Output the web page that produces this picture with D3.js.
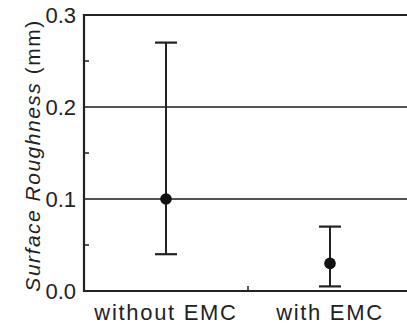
<!DOCTYPE html>
<html>
<head>
<meta charset="utf-8">
<script src="https://cdn.jsdelivr.net/npm/d3@7"></script>
<style>
  body { margin: 0; background: #fff; }
  svg { display: block; font-family: 'Liberation Sans', Arial, sans-serif; }
</style>
</head>
<body>
<svg id="chart" width="407" height="324"></svg>
<script>
// Chart data.
const categories = ['without EMC', 'with EMC'];
const means = [0.1, 0.03];
const lowers = [0.04, 0.005];
const uppers = [0.27, 0.07];
const yTicks = [0.0, 0.1, 0.2, 0.3];
const yMinorTicks = [0.05, 0.15, 0.25];

const width = 407;
const height = 324;
const margin = { left: 84, top: 15, bottom: 291 };
const ink = '#222';

const svg = d3.select('#chart');

const x = d3.scaleBand().domain(categories).range([margin.left, 412]).padding(0);
const y = d3.scaleLinear().domain([0, 0.3]).range([margin.bottom, margin.top]);

// Horizontal gridlines at the inner major ticks.
svg
  .append('g')
  .attr('id', 'grid')
  .selectAll('line')
  .data(yTicks.filter((t) => t > 0 && t < 0.3))
  .join('line')
  .attr('x1', margin.left)
  .attr('x2', width)
  .attr('y1', (d) => y(d))
  .attr('y2', (d) => y(d))
  .attr('stroke', '#1a1a1a')
  .attr('stroke-width', 1.3);

// Top frame line.
svg
  .append('line')
  .attr('x1', margin.left)
  .attr('x2', width)
  .attr('y1', y(0.3))
  .attr('y2', y(0.3))
  .attr('stroke', ink)
  .attr('stroke-width', 2);

// Left axis: labels, inward minor ticks, domain line.
const yAxis = svg
  .append('g')
  .attr('transform', `translate(${margin.left},0)`)
  .call(d3.axisLeft(y).tickValues(yTicks).tickFormat(d3.format('.1f')).tickSize(0).tickPadding(8));
yAxis.select('.domain').remove();
yAxis
  .selectAll('text')
  .attr('font-size', 22)
  .attr('font-family', "'Liberation Sans', Arial, sans-serif")
  .attr('fill', ink)
  .attr('dy', '0.36em');

svg
  .append('g')
  .selectAll('line')
  .data(yMinorTicks)
  .join('line')
  .attr('x1', margin.left)
  .attr('x2', margin.left + 5)
  .attr('y1', (d) => y(d))
  .attr('y2', (d) => y(d))
  .attr('stroke', ink)
  .attr('stroke-width', 1.5);

svg
  .append('line')
  .attr('x1', margin.left)
  .attr('x2', margin.left)
  .attr('y1', y(0.3) - 1)
  .attr('y2', y(0) + 1)
  .attr('stroke', ink)
  .attr('stroke-width', 2.2);

// Bottom axis.
svg
  .append('line')
  .attr('x1', margin.left)
  .attr('x2', width)
  .attr('y1', y(0))
  .attr('y2', y(0))
  .attr('stroke', ink)
  .attr('stroke-width', 2.2);

// Separator tick between the two categories.
svg
  .append('line')
  .attr('x1', x(categories[1]))
  .attr('x2', x(categories[1]))
  .attr('y1', y(0))
  .attr('y2', y(0) - 5)
  .attr('stroke', ink)
  .attr('stroke-width', 1.5);

svg
  .append('g')
  .selectAll('text')
  .data(categories)
  .join('text')
  .attr('x', (d) => x(d) + x.bandwidth() / 2)
  .attr('y', 320)
  .attr('text-anchor', 'middle')
  .attr('font-size', 22)
  .attr('letter-spacing', 1.7)
  .attr('fill', ink)
  .text((d) => d);

// Y axis title: italic words, upright unit.
const title = svg
  .append('text')
  .attr('transform', `translate(40,${(18 + 293) / 2}) rotate(-90)`)
  .attr('text-anchor', 'middle')
  .attr('font-size', 21)
  .attr('letter-spacing', 1.5)
  .attr('fill', ink);
title.append('tspan').attr('font-style', 'italic').text('Surface Roughness');
title.append('tspan').text(' (mm)');

// Error bars and mean points.
const capHalf = 11;
const bars = svg
  .append('g')
  .attr('id', 'points')
  .selectAll('g')
  .data(categories.map((c, i) => ({ c, m: means[i], lo: lowers[i], hi: uppers[i] })))
  .join('g')
  .attr('transform', (d) => `translate(${x(d.c) + x.bandwidth() / 2},0)`);

bars
  .append('line')
  .attr('y1', (d) => y(d.lo))
  .attr('y2', (d) => y(d.hi))
  .attr('stroke', ink)
  .attr('stroke-width', 2);
bars
  .selectAll('.cap')
  .data((d) => [d.lo, d.hi])
  .join('line')
  .attr('class', 'cap')
  .attr('x1', -capHalf)
  .attr('x2', capHalf)
  .attr('y1', (v) => y(v))
  .attr('y2', (v) => y(v))
  .attr('stroke', ink)
  .attr('stroke-width', 2.2);
bars
  .append('circle')
  .attr('cy', (d) => y(d.m))
  .attr('r', 5.8)
  .attr('fill', '#111');
</script>
</body>
</html>
